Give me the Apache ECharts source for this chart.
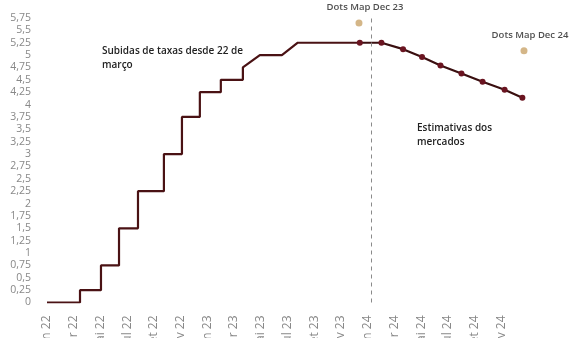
<!DOCTYPE html>
<html>
<head>
<meta charset="utf-8">
<script src="https://cdn.jsdelivr.net/npm/echarts@6/dist/echarts.min.js"></script>
<style>
  html, body { margin: 0; padding: 0; background: #fff; }
  #main { width: 569px; height: 338px; }
</style>
</head>
<body>
<div id="main"></div>
<script>
// x = months since jan 2022
let tickLabels = ['jan 22', 'mar 22', 'mai 22', 'jul 22', 'set 22', 'nov 22',
  'jan 23', 'mar 23', 'mai 23', 'jul 23', 'set 23', 'nov 23',
  'jan 24', 'mar 24', 'mai 24', 'jul 24', 'set 24', 'nov 24'];

// Fed funds path (upper bound), corners of the steps
let histMonths = [0, 2.47, 2.47, 4.04, 4.04, 5.39, 5.39, 6.81, 6.81, 8.75, 8.75, 10.1, 10.1,
  11.44, 11.44, 13.01, 13.01, 14.66, 14.66, 15.93, 17.58, 18.77, 23.41];
let histRates = [0, 0, 0.25, 0.25, 0.75, 0.75, 1.5, 1.5, 2.25, 2.25, 3.0, 3.0, 3.75,
  3.75, 4.25, 4.25, 4.5, 4.5, 4.75, 5.0, 5.0, 5.25, 5.25];

// market estimates
let estMonths = [23.41, 25.03, 26.65, 28.07, 29.45, 31.02, 32.6, 34.25, 35.58];
let estRates = [5.25, 5.25, 5.12, 4.96, 4.79, 4.63, 4.46, 4.30, 4.14];

// dots map
let dotsNames = ['Dots Map Dec 23', 'Dots Map Dec 24'];
let dotsMonths = [23.35, 35.7];
let dotsRates = [5.65, 5.09];

let todayMonth = 24.3;

var myChart = echarts.init(document.getElementById('main'));

let font = 'Open Sans';

var option = {
  animation: false,
  grid: { left: 47, right: 41, top: 18, bottom: 35.5, containLabel: false, outerBoundsMode: 'none' },
  xAxis: {
    type: 'value',
    min: 0,
    max: 36,
    interval: 2,
    axisLine: { show: false },
    axisTick: { show: false },
    splitLine: { show: false },
    axisLabel: {
      rotate: 90,
      margin: 13,
      fontSize: 12,
      color: '#888',
      fontFamily: font,
      formatter: (v) => {
        let i = Math.round(v / 2);
        return (v % 2 === 0 && tickLabels[i]) ? tickLabels[i] : '';
      }
    }
  },
  yAxis: {
    type: 'value',
    min: 0,
    max: 5.75,
    interval: 0.25,
    axisLine: { show: false },
    axisTick: { show: false },
    splitLine: { show: false },
    axisLabel: {
      margin: 16,
      fontSize: 10.5,
      color: '#888',
      fontFamily: font,
      formatter: (v) => String(+v.toFixed(2)).replace('.', ',')
    }
  },
  series: [
    {
      type: 'line',
      data: histMonths.map((m, i) => [m, histRates[i]]),
      showSymbol: false,
      lineStyle: { color: '#4a1214', width: 2.2 },
      markLine: {
        silent: true,
        symbol: 'none',
        label: { show: false },
        lineStyle: { color: '#8a8a8a', type: [4, 4], width: 1 },
        data: [{ xAxis: todayMonth }]
      }
    },
    {
      type: 'line',
      data: estMonths.map((m, i) => [m, estRates[i]]),
      symbol: 'circle',
      symbolSize: 6,
      itemStyle: { color: '#6a1420' },
      lineStyle: { color: '#3a0f10', width: 2.2 }
    },
    {
      type: 'scatter',
      data: dotsMonths.map((m, i) => ({ value: [m, dotsRates[i]], name: dotsNames[i] })),
      symbolSize: 7,
      itemStyle: { color: '#c9a46a' },
      label: {
        show: true,
        position: 'top',
        distance: 7,
        offset: [6, 0],
        formatter: '{b}',
        fontSize: 9.5,
        fontWeight: 600,
        color: '#222',
        fontFamily: font
      }
    }
  ],
  graphic: [
    {
      type: 'text', left: 102, top: 44,
      style: {
        text: 'Subidas de taxas desde 22 de\nmarço',
        font: '600 10px "Open Sans"', fill: '#222', lineHeight: 14
      }
    },
    {
      type: 'text', left: 417, top: 121,
      style: {
        text: 'Estimativas dos\nmercados',
        font: '600 10px "Open Sans"', fill: '#222', lineHeight: 14
      }
    }
  ]
};
myChart.setOption(option);
</script>
</body>
</html>
